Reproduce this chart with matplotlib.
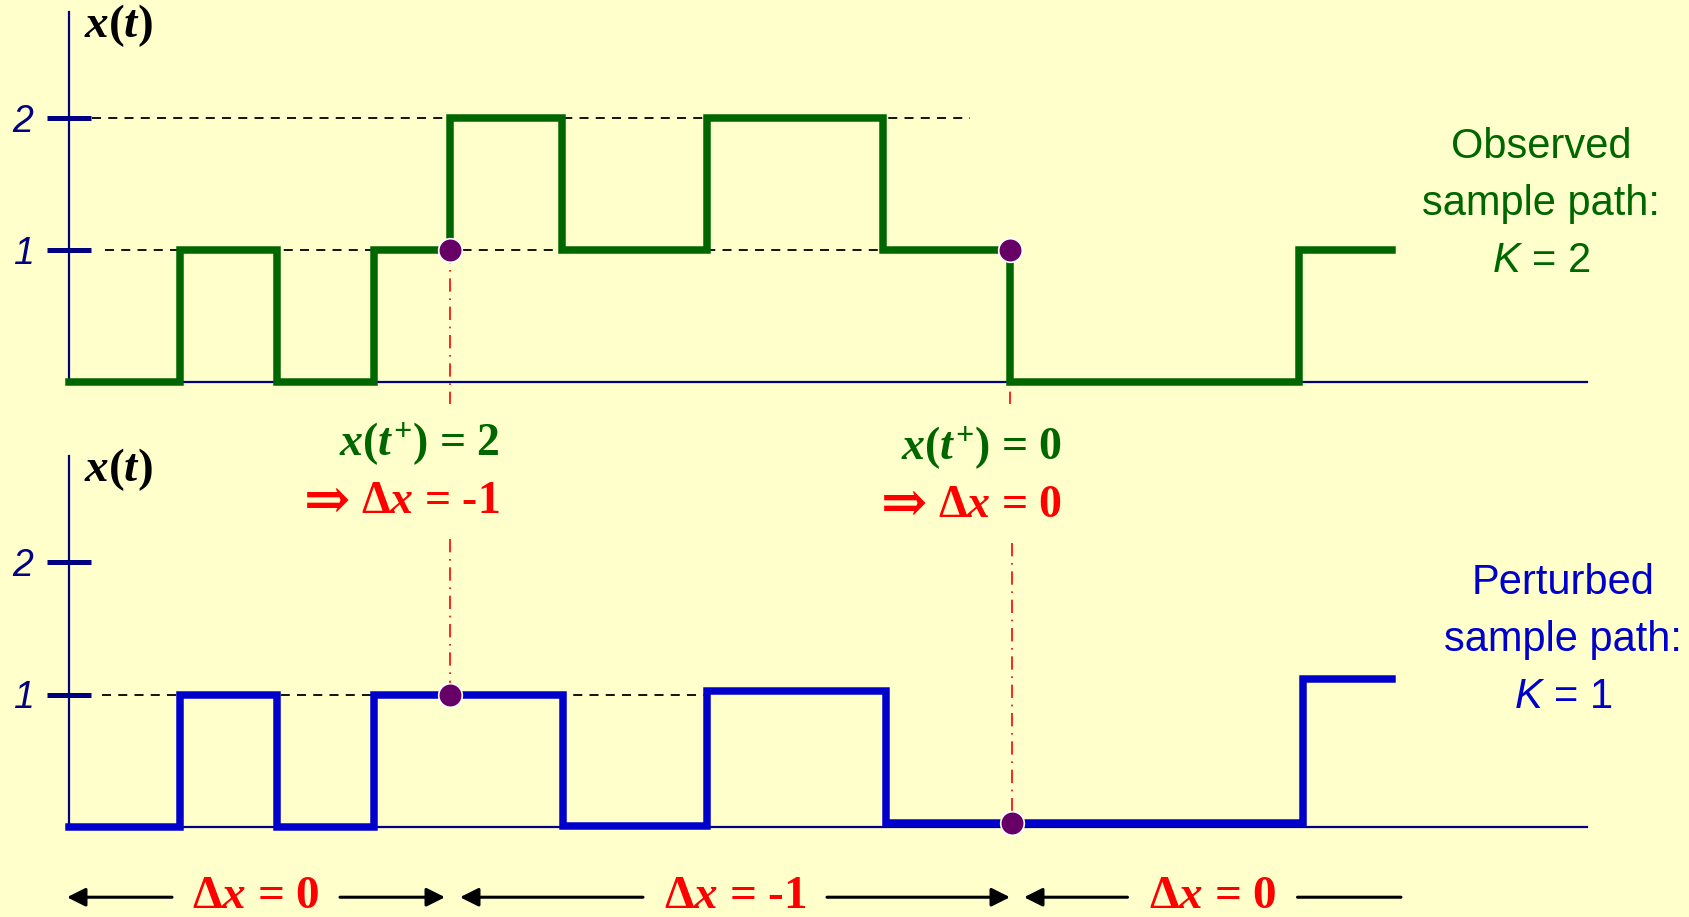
import matplotlib
matplotlib.use("Agg")
import matplotlib.pyplot as plt

# --- datos ---
t_obs = [0, 1.11, 2.08, 3.05, 3.81, 4.93, 6.38, 8.14, 9.41, 12.30, 13.23]
x_obs = [0, 1, 0, 1, 2, 1, 2, 1, 0, 1]

t_pert = [0, 1.11, 2.08, 3.05, 4.94, 6.38, 8.17, 12.34, 13.23]
x_pert = [0, 1, 0, 1, 0.01, 1.03, 0.03, 1.12]

dots_obs_t = [3.81, 9.41]
dots_obs_x = [1, 1]
dots_pert_t = [3.81, 9.43]
dots_pert_x = [1, 0.03]

# guias punteadas: (nivel, desde, hasta)
guias_obs = [(2, 0.23, 9.01), (1, 0.36, 9.41)]
guias_pert = [(1, 0.33, 6.38)]

# intervalos de la parte inferior y su etiqueta
intervalos = [(-0.02, 3.76), (3.91, 9.41), (9.55, 13.32)]
etiq_int = ['$\\Delta x$ = 0', '$\\Delta x$ = -1', '$\\Delta x$ = 0']
semiancho = [0.84, 0.92, 0.85]
flecha_der = [True, True, False]

niveles = [1, 2]
t_max = 15.18
y_max = 2.8

# colores
fondo = '#FFFFCC'
verde = '#006600'
azul = '#0000CC'
marino = '#000080'
morado = '#660066'
rojo = '#FF0000'

plt.rcParams['mathtext.fontset'] = 'custom'
plt.rcParams['mathtext.it'] = 'Liberation Serif:italic:bold'
plt.rcParams['mathtext.rm'] = 'Liberation Serif:bold'
plt.rcParams['mathtext.bf'] = 'Liberation Serif:bold'
plt.rcParams['mathtext.sf'] = 'Liberation Sans:italic'

fig = plt.figure(figsize=(16.9, 9.17), dpi=100, facecolor=fondo)
ax1 = fig.add_axes([69 / 1690, 535 / 917, 1518 / 1690, 369.6 / 917])
ax2 = fig.add_axes([69 / 1690, 90 / 917, 1518 / 1690, 371 / 917])

for ax in (ax1, ax2):
    ax.set_facecolor(fondo)
    ax.set_xlim(0, t_max)
    ax.set_ylim(0, y_max)
    for s in ('top', 'right'):
        ax.spines[s].set_visible(False)
    for s in ('left', 'bottom'):
        ax.spines[s].set_color(marino)
        ax.spines[s].set_linewidth(1.6)
    ax.set_xticks([])
    ax.set_yticks(niveles)
    ax.set_yticklabels([str(n) for n in niveles], fontstyle='italic',
                       family='Liberation Sans', fontsize=27, color=marino)
    ax.tick_params(axis='y', direction='inout', length=31, width=3.6,
                   color=marino, pad=10)
    ax.text(0.15, 2.70, '$x(t)$', fontsize=34, color='black',
            ha='left', va='center')

# guias
for nivel, a, b in guias_obs:
    ax1.plot([a, b], [nivel, nivel], color='black', lw=1.3, ls=(0, (5, 4)), zorder=1)
for nivel, a, b in guias_pert:
    ax2.plot([a, b], [nivel, nivel], color='black', lw=1.3, ls=(0, (5, 4)), zorder=1)

# lineas rojas verticales
ax1.plot([dots_obs_t[0]] * 2, [dots_obs_x[0], -0.17], color=rojo, lw=1.2,
         ls=(0, (8, 4, 1, 4)), clip_on=False, zorder=2)
ax1.plot([dots_obs_t[1]] * 2, [dots_obs_x[1], -0.17], color=rojo, lw=1.2,
         ls=(0, (8, 4, 1, 4)), clip_on=False, zorder=2)
ax2.plot([dots_pert_t[0]] * 2, [2.17, dots_pert_x[0]], color=rojo, lw=1.2,
         ls=(0, (8, 4, 1, 4)), clip_on=False, zorder=2)
ax2.plot([dots_pert_t[1]] * 2, [2.14, dots_pert_x[1]], color=rojo, lw=1.2,
         ls=(0, (8, 4, 1, 4)), clip_on=False, zorder=2)

# trayectorias
ax1.step(t_obs, x_obs + [x_obs[-1]], where='post', color=verde, lw=5.4,
         clip_on=False, zorder=3, solid_joinstyle='miter')
ax2.step(t_pert, x_pert + [x_pert[-1]], where='post', color=azul, lw=5.4,
         clip_on=False, zorder=3, solid_joinstyle='miter')

# puntos
ax1.plot(dots_obs_t, dots_obs_x, 'o', color=morado, ms=17, mec='white',
         mew=1.2, clip_on=False, zorder=4)
ax2.plot(dots_pert_t, dots_pert_x, 'o', color=morado, ms=17, mec='white',
         mew=1.2, clip_on=False, zorder=4)

# etiquetas a la derecha
sans = dict(family='Liberation Sans', fontsize=30, ha='center', va='center',
            linespacing=1.55, clip_on=False)
ax1.text(14.72, 1.35, 'Observed\nsample path:\n$\\mathsf{K}$ = 2', color=verde, **sans)
ax2.text(14.94, 1.41, 'Perturbed\nsample path:\n$\\mathsf{K}$ = 1', color=azul, **sans)

# textos centrales
serif = dict(family='Liberation Serif', weight='bold', fontsize=33)
ax2.text(4.31, 2.89, '$x(t^{+})$ = 2', color=verde, ha='right', va='center', **serif)
ax2.text(9.93, 2.86, '$x(t^{+})$ = 0', color=verde, ha='right', va='center', **serif)
for tx, ty, etq in [(4.31, 2.45, '$\\Delta x$ = -1'), (9.93, 2.42, '$\\Delta x$ = 0')]:
    t_red = ax2.text(tx, ty, etq, color=rojo, ha='right', va='center', **serif)
    ax2.annotate('\u21d2', xy=(0, 0.5), xycoords=t_red, xytext=(-8, 0),
                 textcoords='offset points', ha='right', va='center',
                 color=rojo, family='DejaVu Serif', weight='bold', fontsize=40)

# flechas inferiores
y_fl = -0.53
for (a, b), etq, hw, der in zip(intervalos, etiq_int, semiancho, flecha_der):
    m = (a + b) / 2
    ax2.text(m, y_fl, etq, color=rojo, ha='center', va='center',
             family='Liberation Serif', weight='bold', fontsize=34, clip_on=False)
    ax2.annotate('', xy=(a, y_fl), xytext=(m - hw, y_fl), annotation_clip=False,
                 arrowprops=dict(arrowstyle='-|>', color='black', lw=2.2,
                                 mutation_scale=28, shrinkA=0, shrinkB=0))
    ax2.annotate('', xy=(b, y_fl), xytext=(m + hw, y_fl), annotation_clip=False,
                 arrowprops=dict(arrowstyle='-|>' if der else '-', color='black',
                                 lw=2.2, mutation_scale=28, shrinkA=0, shrinkB=0))

fig.savefig('out.png', dpi=100, facecolor=fondo)
